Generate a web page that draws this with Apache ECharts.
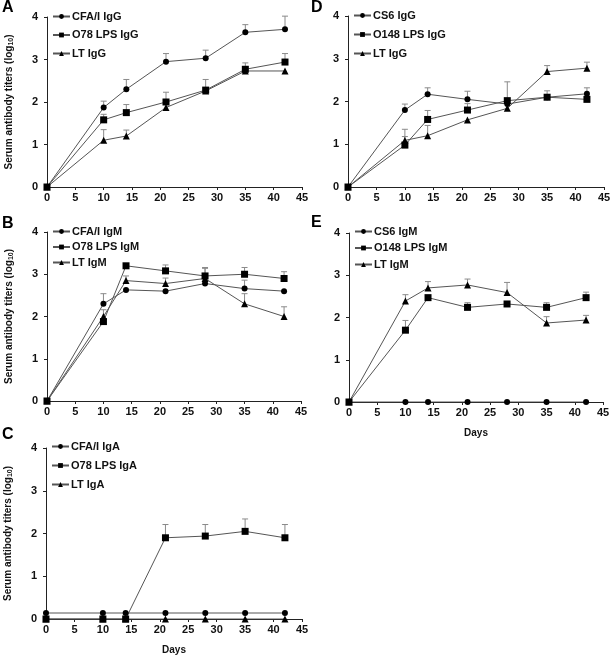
<!DOCTYPE html>
<html><head><meta charset="utf-8">
<script src="https://cdn.jsdelivr.net/npm/echarts@6/dist/echarts.min.js"></script>
<style>html,body{margin:0;padding:0;background:#fff}#c{width:614px;height:658px}</style>
</head><body><div id="c"></div>
<script>
var days = [0, 10, 14, 21, 28, 35, 42];
var xTicks = [0, 5, 10, 15, 20, 25, 30, 35, 40, 45];
var yTicks = [0, 1, 2, 3, 4];

// Panel A (IgG, CFA/I strain)
var A_cfa = [0, 1.87, 2.30, 2.95, 3.03, 3.64, 3.71];
var A_cfaHi = [null, 2.02, 2.53, 3.14, 3.22, 3.82, 4.02];
var A_o78 = [0, 1.58, 1.75, 2.00, 2.28, 2.77, 2.94];
var A_o78Hi = [null, 1.71, 1.94, 2.23, 2.53, 2.92, 3.14];
var A_lt = [0, 1.10, 1.20, 1.87, 2.26, 2.73, 2.73];
var A_ltHi = [null, 1.35, 1.34, null, null, null, null];

// Panel B (IgM, CFA/I strain)
var B_cfa = [0, 2.30, 2.63, 2.60, 2.78, 2.66, 2.60];
var B_cfaHi = [null, 2.54, null, null, null, 2.86, null];
var B_o78 = [0, 1.88, 3.20, 3.08, 2.96, 3.00, 2.90];
var B_o78Hi = [null, null, null, 3.22, 3.16, 3.16, 3.06];
var B_lt = [0, 2.00, 2.85, 2.78, 2.90, 2.30, 2.00];
var B_ltHi = [null, 2.16, 2.96, 2.91, 3.14, 2.54, 2.23];

// Panel C (IgA, CFA/I strain)
var C_cfa = [0.14, 0.14, 0.14, 0.14, 0.14, 0.14, 0.14];
var C_o78 = [0, 0, 0, 1.90, 1.94, 2.05, 1.90];
var C_o78Hi = [null, null, null, 2.21, 2.21, 2.34, 2.21];
var C_lt = [0, 0, 0, 0, 0, 0, 0];

// Panel D (IgG, CS6 strain)
var D_cs6 = [0, 1.80, 2.17, 2.05, 1.94, 2.10, 2.18];
var D_cs6Hi = [null, 1.94, 2.32, 2.24, null, 2.25, 2.32];
var D_o148 = [0, 0.98, 1.58, 1.80, 2.02, 2.10, 2.05];
var D_o148Hi = [null, 1.18, 1.79, 1.95, 2.46, null, null];
var D_lt = [0, 1.09, 1.20, 1.57, 1.84, 2.70, 2.78];
var D_ltHi = [null, 1.35, 1.44, null, null, 2.84, 2.92];

// Panel E (IgM, CS6 strain)
var E_cs6 = [0, 0, 0, 0, 0, 0, 0];
var E_o148 = [0, 1.70, 2.47, 2.24, 2.32, 2.24, 2.47];
var E_o148Hi = [null, 1.93, null, 2.35, null, 2.35, 2.60];
var E_lt = [0, 2.39, 2.70, 2.77, 2.59, 1.87, 1.94];
var E_ltHi = [null, 2.54, 2.85, 2.91, 2.83, 2.02, 2.05];

var panels = [
  {label: 'A', grid: {left: 47, top: 17, width: 255, height: 170}, yName: true, xName: false,
   legend: {left: 52, top: 11, gap: 7.5},
   series: [
     {name: 'CFA/I IgG', sym: 'circle', v: A_cfa, hi: A_cfaHi},
     {name: 'O78 LPS IgG', sym: 'rect', v: A_o78, hi: A_o78Hi},
     {name: 'LT IgG', sym: 'triangle', v: A_lt, hi: A_ltHi}]},
  {label: 'B', grid: {left: 47, top: 232, width: 254, height: 169}, yName: true, xName: false,
   legend: {left: 52, top: 226, gap: 4.5},
   series: [
     {name: 'CFA/I IgM', sym: 'circle', v: B_cfa, hi: B_cfaHi},
     {name: 'O78 LPS IgM', sym: 'rect', v: B_o78, hi: B_o78Hi},
     {name: 'LT IgM', sym: 'triangle', v: B_lt, hi: B_ltHi}]},
  {label: 'C', grid: {left: 46, top: 448, width: 256, height: 171}, yName: true, xName: true,
   legend: {left: 51, top: 441, gap: 8},
   series: [
     {name: 'CFA/I IgA', sym: 'circle', v: C_cfa, hi: null},
     {name: 'LT IgA', sym: 'triangle', v: C_lt, hi: null},
     {name: 'O78 LPS IgA', sym: 'rect', v: C_o78, hi: C_o78Hi}],
   legendOrder: ['CFA/I IgA', 'O78 LPS IgA', 'LT IgA']},
  {label: 'D', grid: {left: 348, top: 16, width: 256, height: 171}, yName: false, xName: false,
   legend: {left: 353, top: 10, gap: 8},
   series: [
     {name: 'CS6 IgG', sym: 'circle', v: D_cs6, hi: D_cs6Hi},
     {name: 'O148 LPS IgG', sym: 'rect', v: D_o148, hi: D_o148Hi},
     {name: 'LT IgG ', sym: 'triangle', v: D_lt, hi: D_ltHi}]},
  {label: 'E', grid: {left: 349, top: 233, width: 254, height: 169}, yName: false, xName: true,
   legend: {left: 354, top: 226, gap: 5.5},
   series: [
     {name: 'CS6 IgM', sym: 'circle', v: E_cs6, hi: null},
     {name: 'O148 LPS IgM', sym: 'rect', v: E_o148, hi: E_o148Hi},
     {name: 'LT IgM ', sym: 'triangle', v: E_lt, hi: E_ltHi}]}
];

var FONT = 'Liberation Sans, Arial, sans-serif';
var NARROW = '"Liberation Sans Narrow", "Arial Narrow", "Liberation Sans", sans-serif';
var grids = [], xAxes = [], yAxes = [], series = [], legends = [], graphics = [];
var symSize = {circle: 6, rect: 7, triangle: 7};

function errRender(params, api) {
  var x = api.value(0), v = api.value(1), h = api.value(2);
  var p0 = api.coord([x, v]), p1 = api.coord([x, h]);
  var st = {stroke: '#8a8a8a', lineWidth: 1};
  return {type: 'group', children: [
    {type: 'line', shape: {x1: p0[0], y1: p0[1], x2: p1[0], y2: p1[1]}, style: st},
    {type: 'line', shape: {x1: p1[0] - 3, y1: p1[1], x2: p1[0] + 3, y2: p1[1]}, style: st}
  ]};
}

panels.forEach(function (p, i) {
  grids.push(Object.assign({containLabel: false}, p.grid));
  var axisLabel = {color: '#111', fontSize: 11, fontWeight: 'bold', fontFamily: FONT, margin: 5};
  xAxes.push({
    type: 'value', gridIndex: i, min: 0, max: 45, interval: 5,
    axisLine: {show: true, onZero: false, lineStyle: {color: '#222', width: 1}},
    axisTick: {show: true, length: 3, lineStyle: {color: '#222'}},
    splitLine: {show: false},
    axisLabel: Object.assign({}, axisLabel, {margin: 5}),
    name: p.xName ? 'Days' : '', nameLocation: 'middle', nameGap: 26,
    nameTextStyle: {color: '#111', fontSize: 10, fontWeight: 'bold', fontFamily: FONT}
  });
  yAxes.push({
    type: 'value', gridIndex: i, min: 0, max: 4, interval: 1,
    axisLine: {show: true, onZero: false, lineStyle: {color: '#222', width: 1}},
    axisTick: {show: true, length: 3, lineStyle: {color: '#222'}},
    splitLine: {show: false},
    axisLabel: Object.assign({}, axisLabel, {margin: 9}),
    name: p.yName ? 'Serum antibody titers (log{sub|10})' : '', nameLocation: 'middle', nameGap: 32,
    nameTextStyle: {color: '#111', fontSize: 10, fontWeight: 'bold', fontFamily: FONT,
      rich: {sub: {fontSize: 7, fontWeight: 'bold', fontFamily: FONT, color: '#111', padding: [4, 0, 0, 0]}}}
  });
  p.series.forEach(function (s) {
    if (s.hi) {
      var ed = [];
      days.forEach(function (d, k) { if (s.hi[k] != null) ed.push([d, s.v[k], s.hi[k]]); });
      series.push({type: 'custom', xAxisIndex: i, yAxisIndex: i, renderItem: errRender, data: ed, z: 1, silent: true});
    }
  });
  p.series.forEach(function (s) {
    series.push({
      type: 'line', name: s.name, xAxisIndex: i, yAxisIndex: i,
      data: days.map(function (d, k) { return [d, s.v[k]]; }),
      symbol: s.sym, symbolSize: symSize[s.sym], showAllSymbol: true,
      lineStyle: {color: '#555', width: 1}, itemStyle: {color: '#000'},
      z: 3, animation: false
    });
  });
  legends.push({
    orient: 'vertical', left: p.legend.left, top: p.legend.top, itemGap: p.legend.gap,
    itemWidth: 17, itemHeight: 6, padding: 0,
    data: p.legendOrder || p.series.map(function (s) { return s.name; }),
    textStyle: {color: '#111', fontSize: 11, fontWeight: 'bold', fontFamily: NARROW, padding: [0, 0, 0, -3]},
    selectedMode: false
  });
});

var labelPos = [[2, 0], [2, 216], [2, 427], [311, 0], [311, 215]];
panels.forEach(function (p, i) {
  graphics.push({type: 'text', left: labelPos[i][0], top: labelPos[i][1],
    style: {text: p.label, font: 'bold 16px ' + FONT, fill: '#000'}});
});

var chart = echarts.init(document.getElementById('c'), null, {renderer: 'canvas'});
chart.setOption({
  animation: false,
  backgroundColor: '#fff',
  grid: grids, xAxis: xAxes, yAxis: yAxes, series: series, legend: legends, graphic: graphics
});
</script></body></html>
